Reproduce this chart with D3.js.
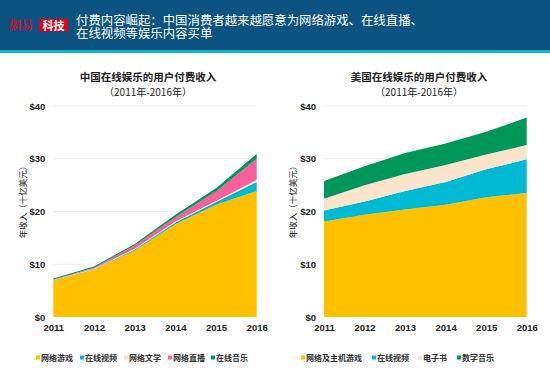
<!DOCTYPE html>
<html><head><meta charset="utf-8">
<script src="https://cdn.jsdelivr.net/npm/d3@7"></script>
<style>body{margin:0;background:#fff}svg{display:block}</style>
</head><body><svg id="c" width="550" height="378"></svg>
<script>
const years = [2011, 2012, 2013, 2014, 2015, 2016];
const yTicks = [0, 10, 20, 30, 40];
// China series
const cnKeys = ["网络游戏", "在线视频", "网络文学", "网络直播", "在线音乐"];
const cnGames = [6.9, 9.0, 12.6, 17.6, 21.3, 23.9];
const cnVideo = [0.05, 0.05, 0.2, 0.3, 0.5, 1.7];
const cnLit = [0.05, 0.1, 0.15, 0.2, 0.2, 0.4];
const cnLive = [0.1, 0.2, 0.6, 0.8, 1.8, 4.0];
const cnMusic = [0.2, 0.2, 0.3, 0.5, 0.6, 0.9];
// US series
const usKeys = ["网络及主机游戏", "在线视频", "电子书", "数字音乐"];
const usGames = [18.1, 19.4, 20.4, 21.3, 22.7, 23.5];
const usVideo = [2.1, 2.5, 3.5, 4.3, 5.3, 6.4];
const usEbook = [2.2, 3.1, 3.2, 3.2, 2.8, 2.7];
const usMusic = [3.4, 3.6, 4.0, 4.1, 4.3, 5.2];

const colors = ["#FFC000", "#00B9D2", "#FCE4CC", "#F7609A", "#00985A"];
const usColors = ["#FFC000", "#00B9D2", "#FCE4CC", "#00985A"];

const svg = d3.select("#c");
const cjk = "'Noto Sans CJK SC', sans-serif";
const lat = "'Liberation Sans', Arial, sans-serif";

// header
svg.append("rect").attr("x",0).attr("y",0).attr("width",550).attr("height",50).attr("fill","#0B5380");
svg.append("rect").attr("x",0).attr("y",50).attr("width",550).attr("height",3).attr("fill","#12B4CF");
svg.append("text").attr("x",9).attr("y",30).attr("font-family","'Noto Serif CJK SC','Noto Sans CJK TC',serif")
  .attr("font-size",12).attr("font-weight","bold").attr("fill","#C8102E").text("網易");
svg.append("rect").attr("x",39).attr("y",19).attr("width",29).attr("height",12.5).attr("fill","#E60012");
svg.append("text").attr("x",53.5).attr("y",29.5).attr("text-anchor","middle").attr("font-family",cjk)
  .attr("font-size",11).attr("font-weight","bold").attr("fill","#fff").text("科技");
svg.append("text").attr("x",76).attr("y",24.5).attr("font-family",cjk).attr("font-size",12.4).attr("fill","#fff")
  .text("付费内容崛起：中国消费者越来越愿意为网络游戏、在线直播、");
svg.append("text").attr("x",76).attr("y",38).attr("font-family",cjk).attr("font-size",12.4).attr("fill","#fff")
  .text("在线视频等娱乐内容买单");

function drawChart(cfg){
  const g = svg.append("g");
  const x = d3.scaleLinear().domain([2011,2016]).range([cfg.x0, cfg.x1]);
  const y = d3.scaleLinear().domain([0,40]).range([317,106]);
  // grid
  g.selectAll(".grid").data(yTicks.filter(d=>d>0)).join("line")
    .attr("x1",cfg.x0).attr("x2",cfg.x1).attr("y1",d=>y(d)).attr("y2",d=>y(d))
    .attr("stroke","#EFEFEF").attr("stroke-width",1);
  const rows = years.map((yr,i)=>{const o={year:yr}; cfg.keys.forEach((k,j)=>o[k]=cfg.series[j][i]); return o;});
  const stack = d3.stack().keys(cfg.keys)(rows);
  const area = d3.area().x(d=>x(d.data.year)).y0(d=>y(d[0])).y1(d=>y(d[1]));
  g.selectAll(".a").data(stack).join("path").attr("d",area).attr("fill",(d,i)=>cfg.colors[i]);
  // y axis
  const ya = d3.axisLeft(y).tickValues(yTicks).tickFormat(d=>"$"+d).tickSize(0).tickPadding(0);
  const yg = g.append("g").attr("transform",`translate(${cfg.x0-8},0)`).call(ya);
  yg.select(".domain").remove();
  yg.selectAll("text").attr("font-family",lat).attr("font-weight","bold").attr("font-size",9.5).attr("fill","#222");
  // x axis
  const xa = d3.axisBottom(x).tickValues(years).tickFormat(d3.format("d")).tickSize(0).tickPadding(0);
  const xg = g.append("g").attr("transform",`translate(0,324)`).call(xa);
  xg.select(".domain").remove();
  xg.selectAll("text").attr("font-family",lat).attr("font-weight","bold").attr("font-size",9.5).attr("fill","#222");
  // y title
  g.append("text").attr("transform",`translate(${cfg.yt},200) rotate(-90)`).attr("text-anchor","middle")
    .attr("dominant-baseline","central").attr("font-family",cjk).attr("font-size",8.5).attr("fill","#222").text("年收入（十亿美元）");
  // titles
  g.append("text").attr("x",cfg.tc).attr("y",80.5).attr("text-anchor","middle").attr("font-family",cjk)
    .attr("font-size",10.5).attr("font-weight","bold").attr("fill","#222").text(cfg.title);
  g.append("text").attr("x",cfg.tc).attr("y",95.5).attr("text-anchor","middle").attr("font-family",cjk)
    .attr("font-size",10).attr("fill","#222").text("（2011年-2016年）");
  // legend
  const lg = g.selectAll(".lg").data(cfg.keys).join("g").attr("transform",(d,i)=>`translate(${cfg.lx[i]},358)`);
  lg.append("rect").attr("x",0).attr("y",-2.5).attr("width",4).attr("height",4).attr("fill",(d,i)=>cfg.colors[i]);
  lg.append("text").attr("x",5).attr("y",3).attr("font-family",cjk).attr("font-size",8).attr("font-weight","bold")
    .attr("fill","#333").text(d=>d);
}

drawChart({x0:53.3,x1:256.7,keys:cnKeys,series:[cnGames,cnVideo,cnLit,cnLive,cnMusic],colors:colors,
  yt:21.7,tc:148,title:"中国在线娱乐的用户付费收入",lx:[36,80,124,168,211]});
drawChart({x0:324,x1:526.7,keys:usKeys,series:[usGames,usVideo,usEbook,usMusic],colors:usColors,
  yt:291.7,tc:419,title:"美国在线娱乐的用户付费收入",lx:[301,372,418,457]});
</script></body></html>
